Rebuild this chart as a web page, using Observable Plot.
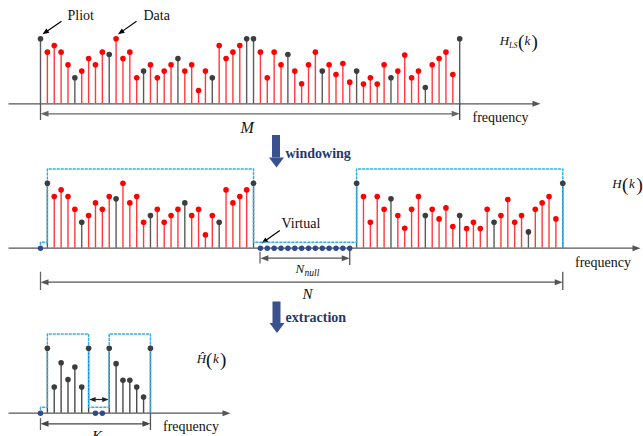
<!DOCTYPE html>
<html><head><meta charset="utf-8">
<script src="https://cdn.jsdelivr.net/npm/d3@7"></script>
<script src="https://cdn.jsdelivr.net/npm/@observablehq/plot@0.6"></script>
<style>
body{margin:0;background:#fff} svg{display:block}
#chart svg text{font-family:"Liberation Serif","Times New Roman",serif}
</style>
</head><body><div id="chart"></div>
<script>
// ---------- data ----------
// LS channel estimate H_LS(k), relative amplitude (pilot = 1)
const hLS = [1.0,0.795,0.897,0.795,0.6,0.4,0.503,0.697,0.6,0.795,
             0.759,1.0,0.697,0.795,0.4,0.503,0.6,0.4,0.503,0.6,
             0.697,0.503,0.6,0.205,0.503,0.4,0.897,0.697,0.795,0.897,
             1.0,1.0,0.795,0.4,0.795,0.6,0.759,0.503,0.308,0.6,
             0.795,0.503,0.6,0.451,0.62,0.333,0.503,0.303,0.4,0.303,
             0.6,0.4,0.503,0.749,0.4,0.503,0.251,0.6,0.697,0.795,
             0.451,1.0];
const pilotIdx = [0,5,10,15,20,25,30,31,36,41,46,51,56,61];
const halfLen = 31;          // subcarriers in each half
const virtualCount = 14;     // N_null virtual subcarriers
// extracted estimate Ĥ(k): left half, right half
const hHatLeft  = [1,0.404,0.777,0.518,0.71,0.404,1];
const hHatRight = [1,0.762,0.508,0.508,0.404,0.249,1];
const hatVirtual = 2;
// window shape levels (relative amplitude)
const winLow = 0.092, winHigh = 1.22;

// ---------- layout ----------
const W = 643, H = 436;
const X0 = 40, DX = 6.872, AMP = 65;
const B = [103.3, 247.7, 412.7];
const xi = i => X0 + i * DX;
const RED_STEM = "#ff3a3a", RED_DOT = "#ff0000", GRAY_STEM = "#5a5a5a", GRAY_DOT = "#3d3d3d";
const BLUE_WIN = "#2fb0e6", VIRT = "#2f4a86", NAVY = "#1f3a70", ARROWB = "#3a5190";

const stems = [], dots = [], vdots = [], win = [];
// panel 1
hLS.forEach((v, i) => {
  const p = pilotIdx.includes(i);
  stems.push({x: xi(i), y1: B[0], y2: B[0] - v * AMP, c: p ? GRAY_STEM : RED_STEM});
  dots.push({x: xi(i), y: B[0] - v * AMP, c: p ? GRAY_DOT : RED_DOT});
});
// panel 2
const rightStart = 1 + halfLen + virtualCount;
hLS.forEach((v, i) => {
  const pos = i < halfLen ? 1 + i : rightStart + (i - halfLen);
  const p = pilotIdx.includes(i);
  stems.push({x: xi(pos), y1: B[1], y2: B[1] - v * AMP, c: p ? GRAY_STEM : RED_STEM});
  dots.push({x: xi(pos), y: B[1] - v * AMP, c: p ? GRAY_DOT : RED_DOT});
});
for (let j = 0; j < virtualCount; j++) vdots.push({x: xi(1 + halfLen + j), y: B[1]});
vdots.push({x: xi(0), y: B[1]});
const E2 = rightStart + halfLen - 1;
[[0,0],[0,winLow],[1,winLow],[1,winHigh],[halfLen,winHigh],[halfLen,winLow],[rightStart,winLow],[rightStart,winHigh],[E2,winHigh],[E2,0]]
  .forEach(([i, l]) => win.push({x: xi(i), y: B[1] - l * AMP, z: 2}));
// panel 3
const hatRightStart = 1 + hHatLeft.length + hatVirtual;
hHatLeft.forEach((v, j) => {
  stems.push({x: xi(1 + j), y1: B[2], y2: B[2] - v * AMP, c: "#4a4a4a"});
  dots.push({x: xi(1 + j), y: B[2] - v * AMP, c: GRAY_DOT});
});
hHatRight.forEach((v, j) => {
  stems.push({x: xi(hatRightStart + j), y1: B[2], y2: B[2] - v * AMP, c: "#4a4a4a"});
  dots.push({x: xi(hatRightStart + j), y: B[2] - v * AMP, c: GRAY_DOT});
});
for (let j = 0; j < hatVirtual; j++) vdots.push({x: xi(1 + hHatLeft.length + j), y: B[2]});
vdots.push({x: xi(0), y: B[2]});
const L3 = hHatLeft.length, E3 = hatRightStart + hHatRight.length - 1;
[[0,0],[0,winLow],[1,winLow],[1,winHigh],[L3,winHigh],[L3,winLow],[hatRightStart,winLow],[hatRightStart,winHigh],[E3,winHigh],[E3,0]]
  .forEach(([i, l]) => win.push({x: xi(i), y: B[2] - l * AMP, z: 3}));

// ---------- arrows ----------
const arrows = [
  {x1: 8, y1: B[0], x2: 540, y2: B[0], c: "#555", both: false, big: true},
  {x1: 8, y1: B[1], x2: 640, y2: B[1], c: "#555", both: false, big: true},
  {x1: 8, y1: B[2], x2: 230, y2: B[2], c: "#555", both: false, big: true},
  {x1: xi(0), y1: 113.3, x2: xi(61), y2: 113.3, c: "#666", both: true, big: true},
  {x1: xi(1 + halfLen), y1: 257.7, x2: xi(rightStart - 1), y2: 257.7, c: "#555", both: true, big: true},
  {x1: xi(0), y1: 281.7, x2: xi(E2), y2: 281.7, c: "#555", both: true, big: true},
  {x1: xi(0), y1: 423.3, x2: xi(E3), y2: 423.3, c: "#444", both: true, big: true},
  {x1: xi(L3) + 0.5, y1: 399, x2: xi(hatRightStart) - 0.5, y2: 399, c: "#222", both: true, big: false},
  {x1: 61, y1: 20.7, x2: 42, y2: 33.8, c: "#000", both: false, big: false},
  {x1: 136, y1: 20.7, x2: 117.5, y2: 33.8, c: "#000", both: false, big: false},
  {x1: 279.3, y1: 230, x2: 261, y2: 243, c: "#000", both: false, big: false}
];
const ticks = [
  {x: xi(0), y1: B[0], y2: 120, c: GRAY_STEM}, {x: xi(61), y1: B[0], y2: 120, c: "#444"},
  {x: xi(1 + halfLen) - 0.4, y1: 251.7, y2: 263.5, c: "#666"}, {x: xi(rightStart - 1), y1: 250, y2: 265, c: "#555"},
  {x: xi(0), y1: 271.7, y2: 290, c: "#666"}, {x: xi(E2), y1: 271.7, y2: 290, c: "#555"},
  {x: xi(0), y1: 418, y2: 430, c: "#666"}, {x: xi(E3), y1: B[2], y2: 430, c: "#555"}
];
const links = [], headsBig = [], headsSmall = [];
for (const a of arrows) {
  const l = a.big ? 8 : 6.5;
  const dx = a.x2 - a.x1, dy = a.y2 - a.y1, len = Math.hypot(dx, dy), ux = dx / len, uy = dy / len;
  const tgt = a.big ? headsBig : headsSmall;
  const add = (tx, ty, sx, sy) => tgt.push({x: tx - sx * l, y: ty - sy * l, rot: Math.atan2(sx, -sy) * 180 / Math.PI, c: a.c});
  add(a.x2, a.y2, ux, uy);
  let sx1 = a.x1, sy1 = a.y1;
  if (a.both) { add(a.x1, a.y1, -ux, -uy); sx1 += ux * (l - 1); sy1 += uy * (l - 1); }
  links.push({x1: sx1, y1: sy1, x2: a.x2 - ux * (l - 1), y2: a.y2 - uy * (l - 1), c: a.c});
}
// big process arrows (windowing / extraction)
const bigArrows = [{x: 276, top: 135, headBase: 157.5, tip: 167}, {x: 276.5, top: 301.5, headBase: 323, tip: 333.3}];
const shafts = bigArrows.map(d => ({x1: d.x - 4, x2: d.x + 4, y1: d.top, y2: d.headBase}));
const bigHeads = bigArrows.map(d => ({x: d.x, y: d.headBase - 0.5}));

// ---------- labels ----------
const labels = [
  {t: "Pliot", x: 67, y: 19.5, s: 14, k: "n"},
  {t: "Data", x: 143, y: 19.5, s: 14, k: "n"},
  {t: "frequency", x: 472, y: 121, s: 14, k: "n"},
  {t: "Virtual", x: 281, y: 227.5, s: 14, k: "n"},
  {t: "frequency", x: 574.5, y: 266, s: 14, k: "n"},
  {t: "frequency", x: 162.5, y: 430, s: 14, k: "n"},
  {t: "(", x: 517.5, y: 47.5, s: 19, k: "n"}, {t: ")", x: 531, y: 47.5, s: 19, k: "n"},
  {t: "(", x: 621.5, y: 190.5, s: 19, k: "n"}, {t: ")", x: 636, y: 190.5, s: 19, k: "n"},
  {t: "(", x: 205.5, y: 365.8, s: 19, k: "n"}, {t: ")", x: 219.5, y: 365.8, s: 19, k: "n"},
  {t: "H", x: 499.3, y: 44.7, s: 13, k: "i"}, {t: "LS", x: 508.6, y: 47.8, s: 8, k: "i"}, {t: "k", x: 524, y: 44.7, s: 13, k: "i"},
  {t: "H", x: 611.7, y: 187.5, s: 13, k: "i"}, {t: "k", x: 628.5, y: 187.5, s: 13, k: "i"},
  {t: "Ĥ", x: 196.2, y: 362.7, s: 13, k: "i"}, {t: "k", x: 212.5, y: 362.7, s: 13, k: "i"},
  {t: "M", x: 240, y: 132.5, s: 16, k: "i"},
  {t: "N", x: 295, y: 272.5, s: 13, k: "i"}, {t: "null", x: 304, y: 275, s: 9.5, k: "i"},
  {t: "N", x: 302, y: 298, s: 15, k: "i"},
  {t: "K", x: 91.5, y: 440.5, s: 15, k: "i"},
  {t: "windowing", x: 285, y: 157, s: 14, k: "b"},
  {t: "extraction", x: 285, y: 321.5, s: 14, k: "b"}
];
const txt = (kind, opts) => Plot.text(labels.filter(d => d.k === kind), {
  x: "x", y: "y", text: "t", fontSize: "s", textAnchor: "start", lineAnchor: "bottom",
  fontFamily: "Liberation Serif", ...opts
});

const chart = Plot.plot({
  width: W, height: H, margin: 0,
  style: {fontFamily: "Liberation Serif, serif", background: "#fff"},
  x: {domain: [0, W], range: [0, W], axis: null},
  y: {domain: [0, H], range: [0, H], axis: null},
  marks: [
    Plot.link(links, {x1: "x1", y1: "y1", x2: "x2", y2: "y2", stroke: "c", strokeWidth: 1.2}),
    Plot.vector(headsBig, {x: "x", y: "y", rotate: "rot", length: 8, r: 3, shape: "spike", anchor: "start", fill: "c", stroke: "none"}),
    Plot.vector(headsSmall, {x: "x", y: "y", rotate: "rot", length: 6.5, r: 2.6, shape: "spike", anchor: "start", fill: "c", stroke: "none"}),
    Plot.ruleX(ticks, {x: "x", y1: "y1", y2: "y2", stroke: "c", strokeWidth: 1.3}),
    Plot.ruleX(stems, {x: "x", y1: "y1", y2: "y2", stroke: "c", strokeWidth: 1.4}),
    Plot.line(win, {x: "x", y: "y", z: "z", stroke: BLUE_WIN, strokeWidth: 1.5, strokeDasharray: "2,2", curve: "linear"}),
    Plot.dot(dots, {x: "x", y: "y", r: 2.8, fill: "c", stroke: "none"}),
    Plot.dot(vdots, {x: "x", y: "y", r: 2.7, fill: VIRT, stroke: "none"}),
    Plot.rect(shafts, {x1: "x1", x2: "x2", y1: "y1", y2: "y2", fill: ARROWB}),
    Plot.vector(bigHeads, {x: "x", y: "y", rotate: 180, length: 10, r: 7.5, shape: "spike", anchor: "start", fill: ARROWB, stroke: "none"}),
    txt("n", {fill: "#111"}),
    txt("i", {fill: "#111", fontStyle: "italic"}),
    txt("b", {fill: NAVY, fontWeight: "bold"})
  ]
});
document.getElementById("chart").appendChild(chart);
</script>
</body></html>
